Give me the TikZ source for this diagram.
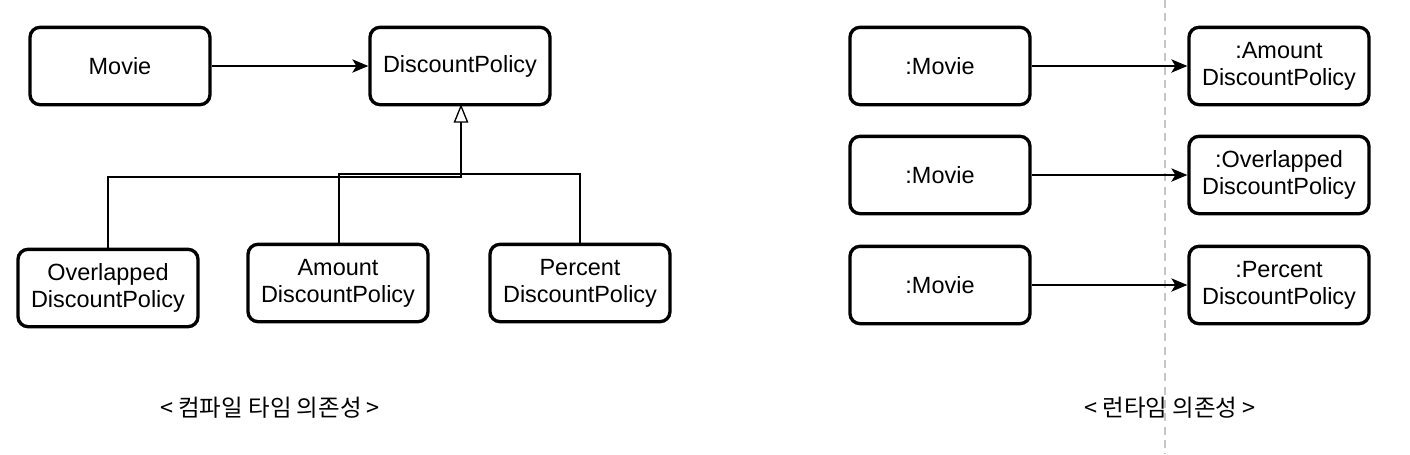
\documentclass[tikz,border=0pt]{standalone}
\usepackage{fontspec}
\setmainfont{Liberation Sans}
\newfontfamily\kr{Noto Sans CJK KR}
\usetikzlibrary{arrows.meta}
\begin{document}
\begin{tikzpicture}[x=0.75pt,y=-0.75pt,
  box/.style={draw=black,line width=2.5pt,rounded corners=7.5pt,minimum width=135pt,minimum height=58pt,align=center,font=\fontsize{17.6}{20.2}\selectfont,inner sep=0pt},
  dep/.style={line width=1pt,-{Stealth[length=12pt,width=10pt,inset=3pt]}},
  inh/.style={line width=1pt},
  lbl/.style={font=\kr\fontsize{17.6}{19.5}\selectfont}]
\useasboundingbox (0,0) rectangle (1410,454);
\coordinate (dt) at (1165,0);
\coordinate (db) at (1165,454);
\draw[gray!45,line width=1.2pt,dash pattern=on 6pt off 4pt] (dt) -- (db);
\node[box] (movie) at (120,66) {Movie};
\node[box] (dp) at (460,66) {DiscountPolicy};
\node[box] (ov) at (108,288) {Overlapped\\DiscountPolicy};
\node[box] (am) at (338,283) {Amount\\DiscountPolicy};
\node[box] (pc) at (580,283) {Percent\\DiscountPolicy};
\draw[dep] (movie.east) -- (dp.west);
\draw[inh] (ov.north -| 108,0) -- (108,177) -- (461,177) -- (461,122);
\draw[inh] (am.north -| 339,0) -- (339,174) -- (461,174);
\draw[inh] (pc.north) -- (580,174) -- (461,174) -- (461,122);
\draw[line width=1pt,fill=white] (461,106) -- (467.5,122) -- (454.5,122) -- cycle;
\node[box] (m1) at (940,66) {:Movie};
\node[box] (m2) at (940,175) {:Movie};
\node[box] (m3) at (940,285) {:Movie};
\node[box] (r1) at (1279,66) {:Amount\\DiscountPolicy};
\node[box] (r2) at (1279,175) {:Overlapped\\DiscountPolicy};
\node[box] (r3) at (1279,285) {:Percent\\DiscountPolicy};
\draw[dep] (m1.east) -- (r1.west);
\draw[dep] (m2.east) -- (r2.west);
\draw[dep] (m3.east) -- (r3.west);
\node[lbl] (l1) at (270,408) {< 컴파일 타임 의존성 >};
\node[lbl] (l2) at (1170,408) {< 런타임 의존성 >};
\end{tikzpicture}
\end{document}
